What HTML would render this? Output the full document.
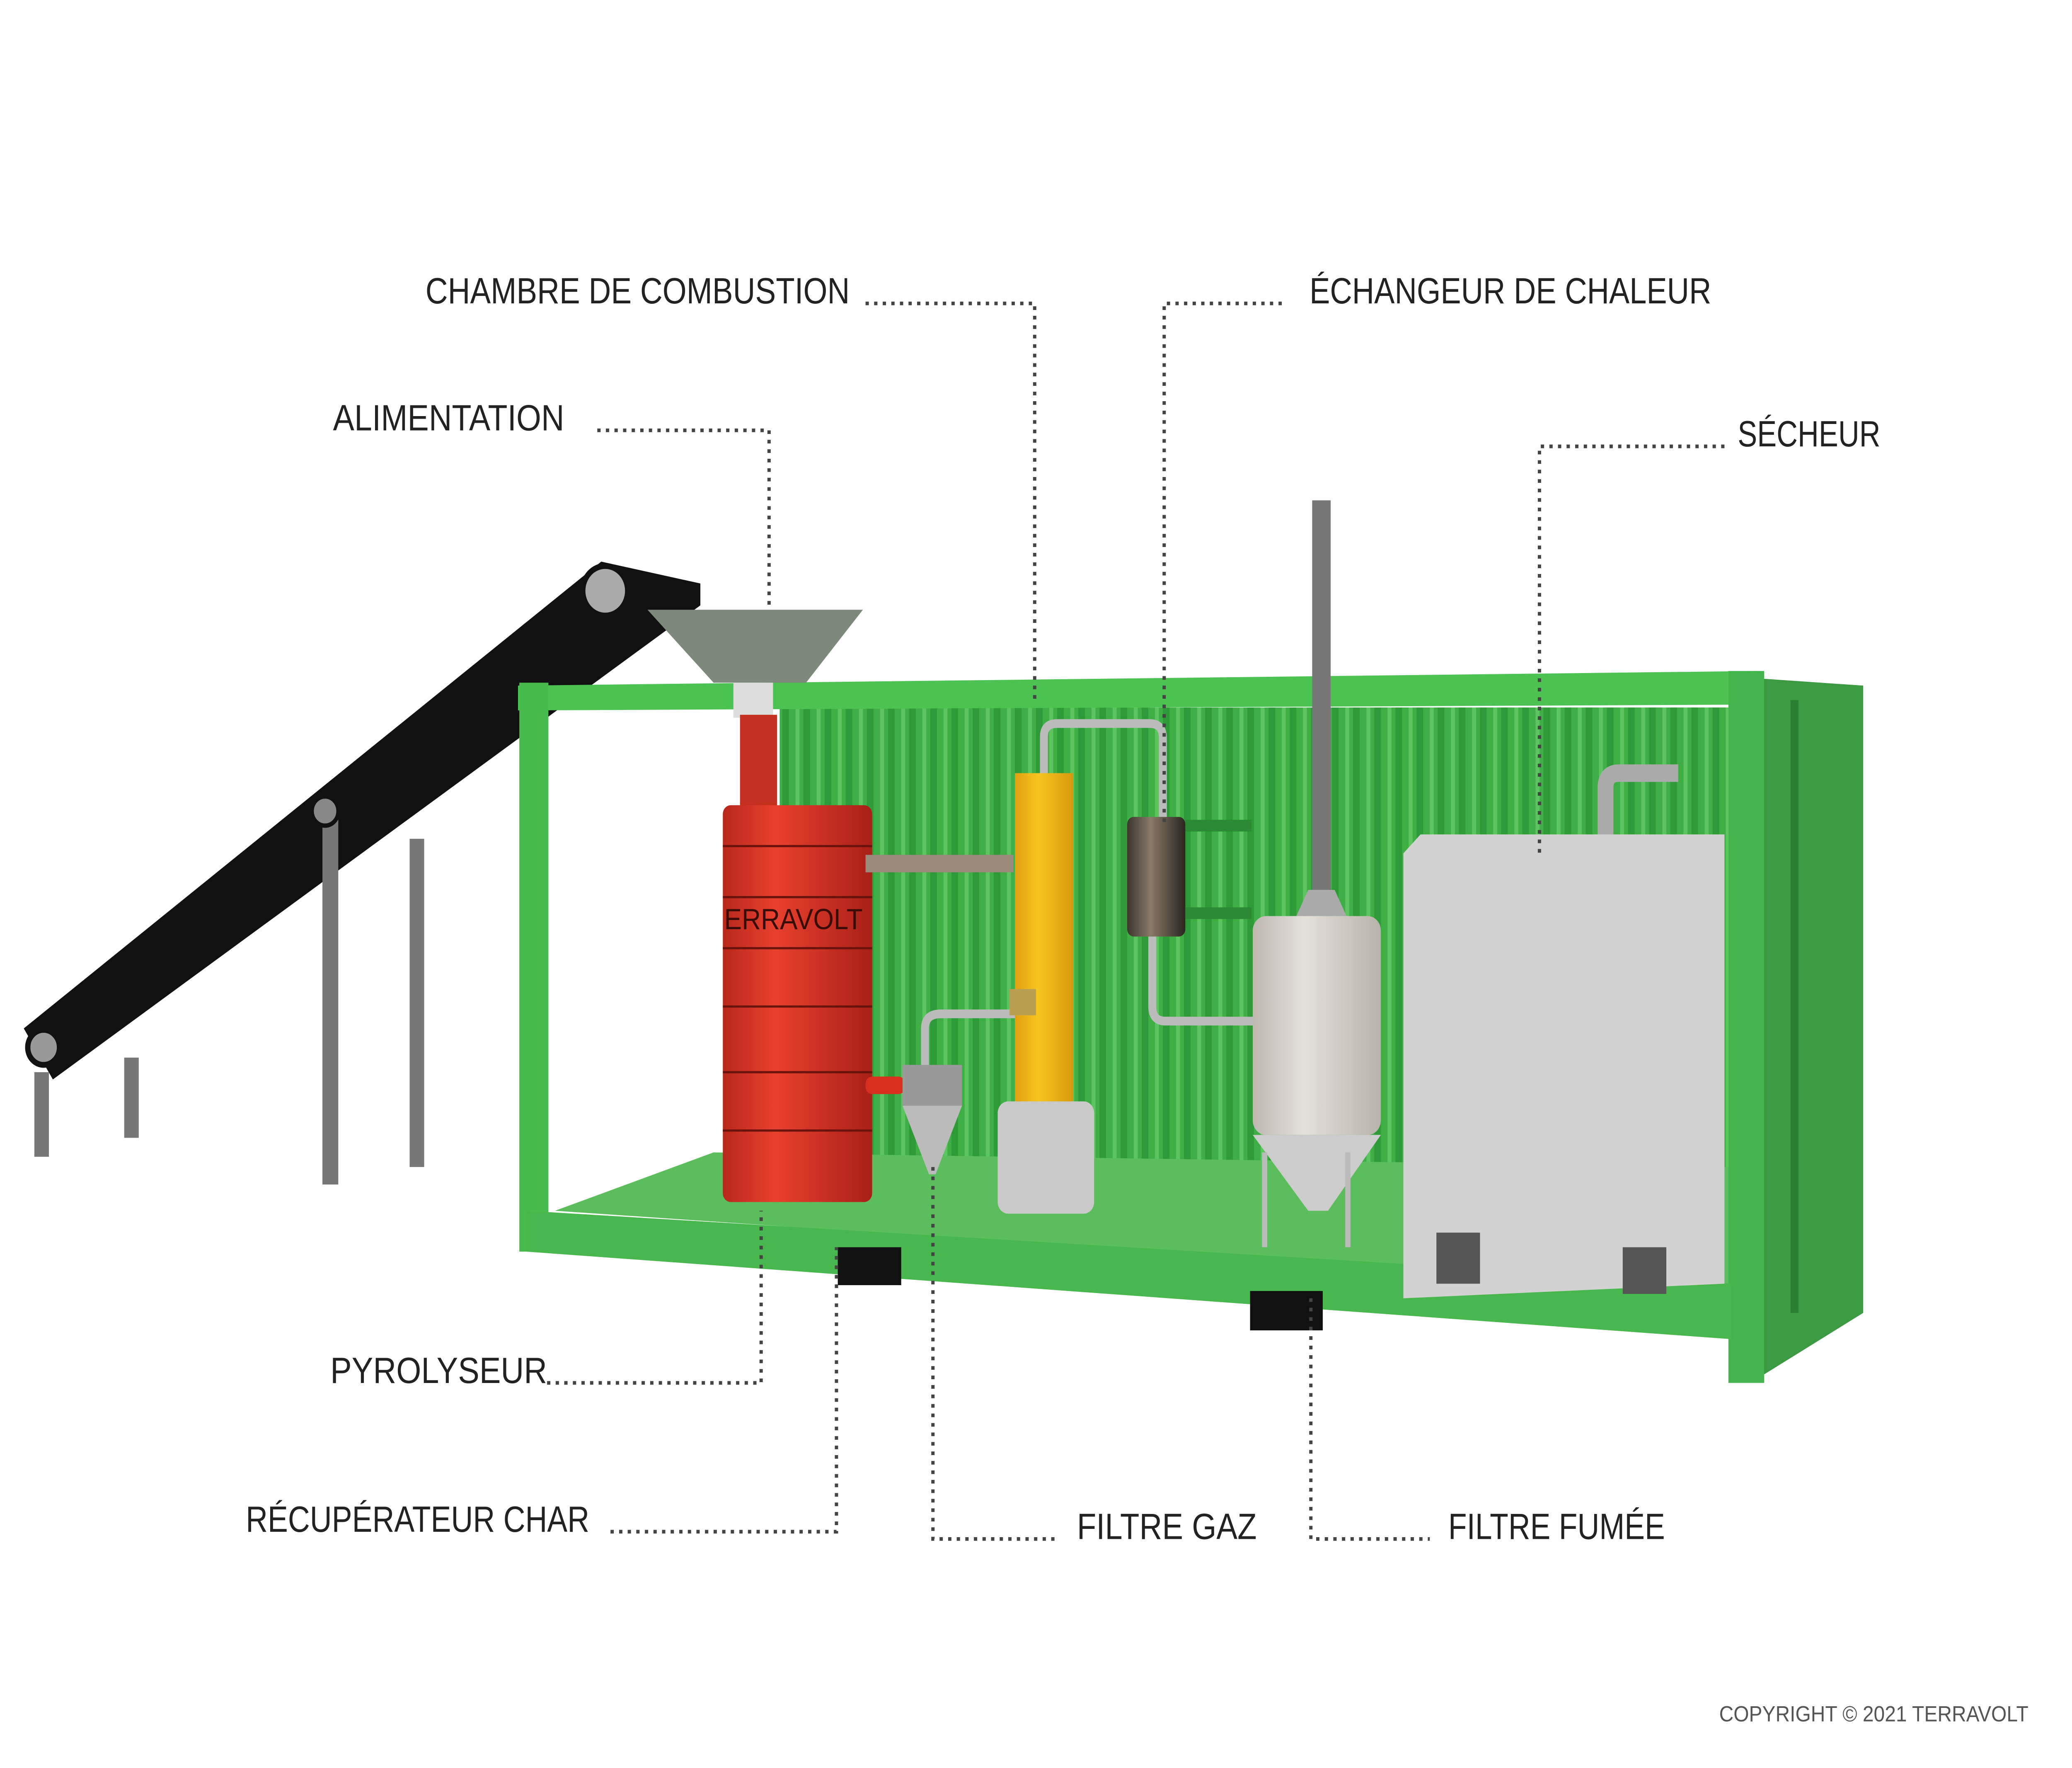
<!DOCTYPE html>
<html><head><meta charset="utf-8"><style>
html,body{margin:0;padding:0;background:#fff;overflow:hidden;width:100%;height:100%}
svg{display:block;position:absolute;left:0;top:0;width:100vw;height:100vh}
text{font-family:"Liberation Sans",sans-serif;fill:#222}
</style></head><body>
<svg viewBox="0 0 1568 1212" preserveAspectRatio="none" xmlns="http://www.w3.org/2000/svg">
<defs>
<linearGradient id="red" x1="0" x2="1"><stop offset="0" stop-color="#b8281c"/><stop offset=".35" stop-color="#e8402e"/><stop offset="1" stop-color="#a82016"/></linearGradient>
<linearGradient id="yel" x1="0" x2="1"><stop offset="0" stop-color="#e0a010"/><stop offset=".4" stop-color="#f7c520"/><stop offset="1" stop-color="#d89a0c"/></linearGradient>
<linearGradient id="wht" x1="0" x2="1"><stop offset="0" stop-color="#bdb8b0"/><stop offset=".4" stop-color="#e4e0da"/><stop offset="1" stop-color="#b8b3aa"/></linearGradient>
<linearGradient id="can" x1="0" x2="1"><stop offset="0" stop-color="#3a3630"/><stop offset=".4" stop-color="#8a7a68"/><stop offset="1" stop-color="#2a2620"/></linearGradient>
<pattern id="rib" width="16" height="10" patternUnits="userSpaceOnUse"><rect width="16" height="10" fill="#3fae45"/><rect x="0" width="5" height="10" fill="#2f9a38"/><rect x="10" width="3" height="10" fill="#5cc560"/></pattern>
</defs>
<g font-size="25" textLength="0">
<text x="322" y="208" textLength="321" lengthAdjust="spacingAndGlyphs">CHAMBRE DE COMBUSTION</text>
<text x="252" y="295" textLength="175" lengthAdjust="spacingAndGlyphs">ALIMENTATION</text>
<text x="991" y="208" textLength="304" lengthAdjust="spacingAndGlyphs">ÉCHANGEUR DE CHALEUR</text>
<text x="1315" y="306" textLength="108" lengthAdjust="spacingAndGlyphs">SÉCHEUR</text>
<text x="250" y="948" textLength="164" lengthAdjust="spacingAndGlyphs">PYROLYSEUR</text>
<text x="186" y="1050" textLength="260" lengthAdjust="spacingAndGlyphs">RÉCUPÉRATEUR CHAR</text>
<text x="815" y="1055" textLength="136" lengthAdjust="spacingAndGlyphs">FILTRE GAZ</text>
<text x="1096" y="1055" textLength="164" lengthAdjust="spacingAndGlyphs">FILTRE FUMÉE</text>
</g>
<text x="1301" y="1180" font-size="15" textLength="234" lengthAdjust="spacingAndGlyphs" style="fill:#555">COPYRIGHT © 2021 TERRAVOLT</text>
<g>
<polygon points="18,705 455,385 530,400 530,415 40,740" fill="#111"/>
<circle cx="458" cy="405" r="17" fill="#aaa" stroke="#111" stroke-width="4"/>
<circle cx="33" cy="718" r="12" fill="#999" stroke="#111" stroke-width="4"/>
<rect x="244" y="552" width="12" height="260" fill="#777"/>
<rect x="310" y="575" width="11" height="225" fill="#777"/>
<rect x="94" y="725" width="11" height="55" fill="#777"/>
<rect x="26" y="735" width="11" height="58" fill="#777"/>
<circle cx="246" cy="556" r="10" fill="#888" stroke="#111" stroke-width="3"/>
</g>
<polygon points="1330,465 1410,470 1410,900 1330,945" fill="#3b9a42"/>
<rect x="1355" y="480" width="6" height="420" fill="#2c7e33"/>
<rect x="590" y="485" width="720" height="320" fill="url(#rib)"/>
<polygon points="420,830 540,790 1310,800 1310,885" fill="#5cbd5c"/>
<polygon points="392,470 1330,460 1330,483 392,487" fill="#4cc252"/>
<rect x="393" y="468" width="22" height="390" fill="#48bb4e"/>
<rect x="1308" y="460" width="27" height="488" fill="#44b54b"/>
<polygon points="398,830 1310,880 1310,918 398,858" fill="#48b84e"/>
<rect x="634" y="855" width="48" height="26" fill="#111"/>
<rect x="946" y="885" width="55" height="27" fill="#111"/>
<polygon points="490,418 653,418 610,468 540,468" fill="#7d8a7b"/>
<rect x="555" y="468" width="30" height="24" fill="#ddd"/>
<rect x="560" y="490" width="28" height="65" fill="#c6301f"/>
<rect x="547" y="552" width="113" height="272" rx="6" fill="url(#red)"/>
<g stroke="#6a130c" stroke-width="1.5">
<line x1="547" y1="580" x2="660" y2="580"/><line x1="547" y1="615" x2="660" y2="615"/><line x1="547" y1="650" x2="660" y2="650"/><line x1="547" y1="690" x2="660" y2="690"/><line x1="547" y1="735" x2="660" y2="735"/><line x1="547" y1="775" x2="660" y2="775"/></g>
<text x="548" y="637" font-size="20" style="fill:#3a0c08">ERRAVOLT</text>
<rect x="655" y="586" width="112" height="12" fill="#9a8a7a"/>
<rect x="655" y="738" width="30" height="12" rx="5" fill="#d83020"/>
<path d="M700,745 V705 Q700,695 712,695 H768" stroke="#bbb" stroke-width="6" fill="none"/>
<rect x="683" y="730" width="45" height="28" fill="#999"/>
<polygon points="683,758 728,758 708,805 703,805" fill="#bbb"/>
<rect x="768" y="530" width="44" height="225" fill="url(#yel)"/>
<rect x="755" y="755" width="73" height="77" rx="8" fill="#c9c9c9"/>
<path d="M790,530 V505 Q790,496 800,496 H870 Q880,496 880,506 V560" stroke="#bbb" stroke-width="6" fill="none"/>
<rect x="764" y="678" width="20" height="18" fill="#b8a050"/>
<rect x="853" y="560" width="44" height="82" rx="5" fill="url(#can)"/>
<rect x="897" y="562" width="50" height="8" fill="#2c8a34"/>
<rect x="897" y="622" width="50" height="8" fill="#2c8a34"/>
<path d="M872,642 V690 Q872,700 882,700 H950" stroke="#bbb" stroke-width="6" fill="none"/>
<rect x="993" y="343" width="14" height="270" fill="#777"/>
<polygon points="990,610 1010,610 1020,630 980,630" fill="#aaa"/>
<rect x="948" y="628" width="97" height="150" rx="10" fill="url(#wht)"/>
<polygon points="948,778 1045,778 1005,830 990,830" fill="#ccc"/>
<g stroke="#bbb" stroke-width="4"><line x1="957" y1="790" x2="957" y2="855"/><line x1="1020" y1="790" x2="1020" y2="855"/></g>
<path d="M1215,575 V540 Q1215,530 1225,530 H1270" stroke="#aaa" stroke-width="12" fill="none"/>
<polygon points="1062,585 1075,572 1305,572 1305,880 1062,890" fill="#d2d2d2"/>
<rect x="1087" y="845" width="33" height="35" fill="#555"/>
<rect x="1228" y="855" width="33" height="32" fill="#555"/>
<g stroke="#444" stroke-width="2.5" stroke-dasharray="2.5 4" fill="none">
<polyline points="655,208 783,208 783,480"/>
<polyline points="452,295 582,295 582,415"/>
<polyline points="970,208 881,208 881,565"/>
<polyline points="1305,306 1165,306 1165,585"/>
<polyline points="414,948 576,948 576,830"/>
<polyline points="462,1050 633,1050 633,855"/>
<polyline points="706,800 706,1055 800,1055"/>
<polyline points="992,890 992,1055 1082,1055"/>
</g>
</svg>
</body></html>
